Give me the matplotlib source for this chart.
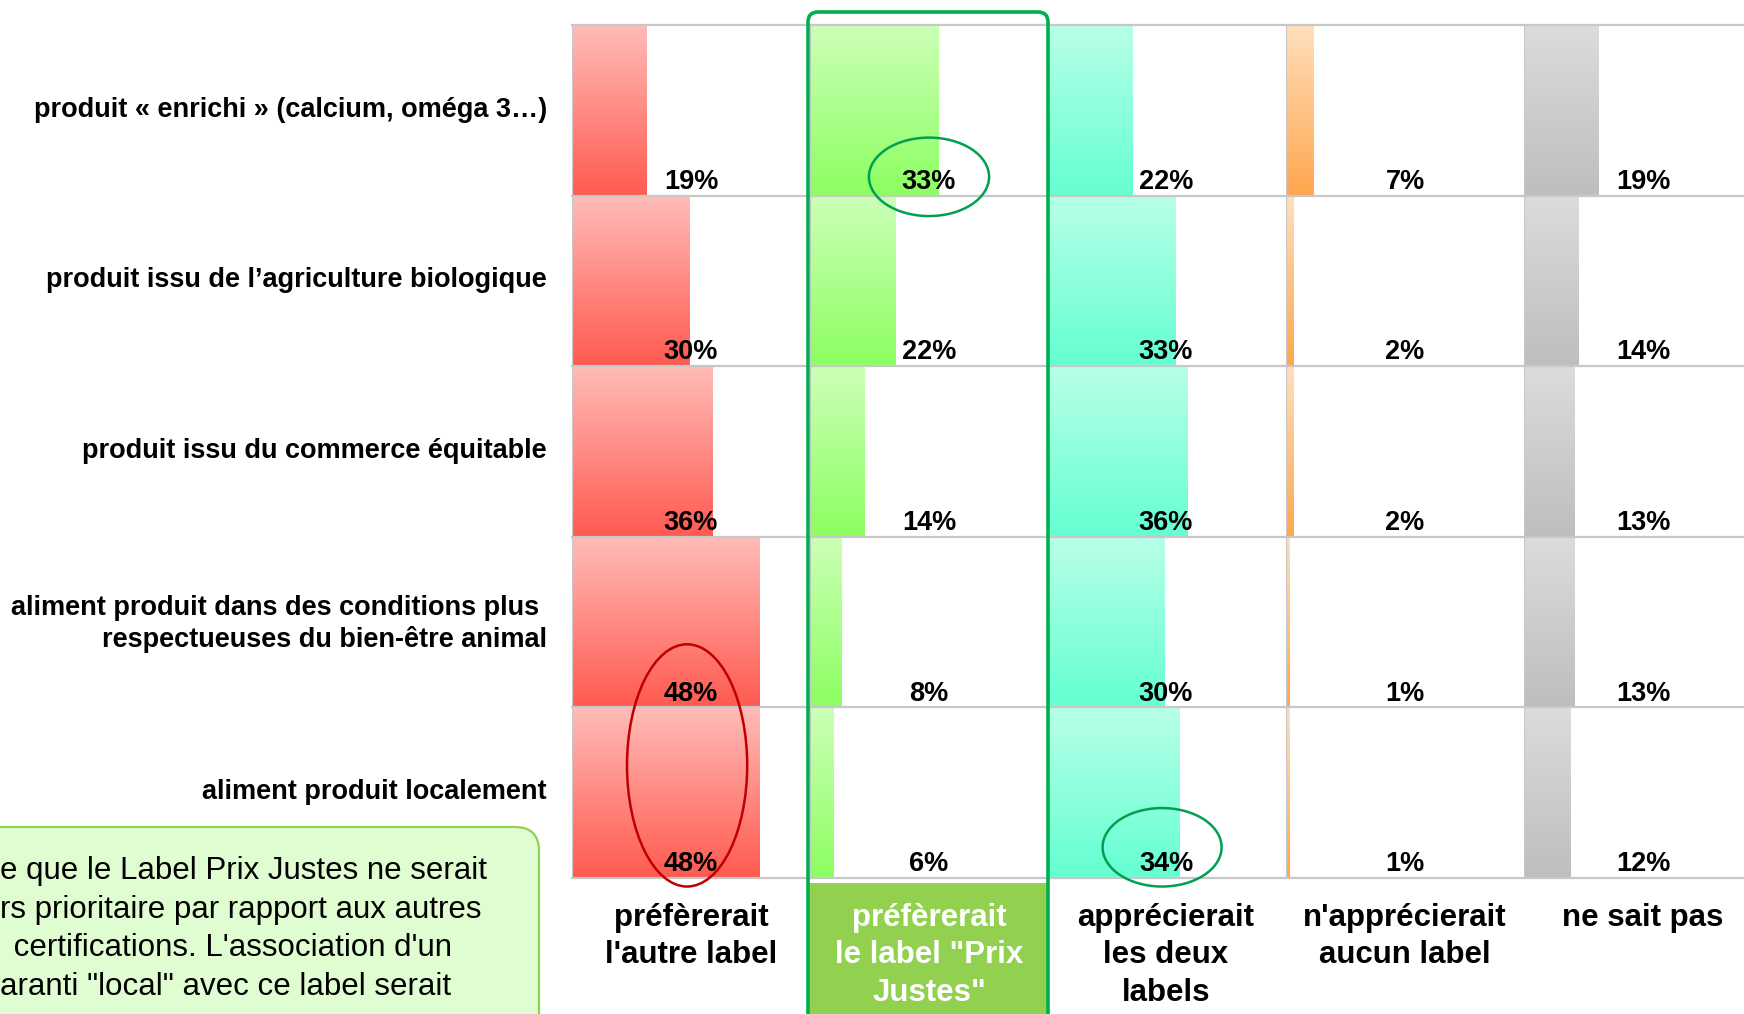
import numpy as np
import matplotlib
matplotlib.use('Agg')
import matplotlib.pyplot as plt
from matplotlib.patches import Ellipse, FancyBboxPatch, Rectangle
from matplotlib.colors import LinearSegmentedColormap
from matplotlib.transforms import IdentityTransform, ScaledTranslation

plt.rcParams['font.family'] = ['Liberation Sans', 'DejaVu Sans']

# ---------------- data ----------------
row_labels = [
    "produit « enrichi » (calcium, oméga 3…)",
    "produit issu de l’agriculture biologique",
    "produit issu du commerce équitable",
    "aliment produit dans des conditions plus \nrespectueuses du bien-être animal",
    "aliment produit localement",
]
col_labels = [
    "préfèrerait\nl'autre label",
    "préfèrerait\nle label \"Prix\nJustes\"",
    "apprécierait\nles deux\nlabels",
    "n'apprécierait\naucun label",
    "ne sait pas",
]
autre_label = [19, 30, 36, 48, 48]
prix_justes = [33, 22, 14, 8, 6]
deux_labels = [22, 33, 36, 30, 34]
aucun_label = [7, 2, 2, 1, 1]
ne_sait_pas = [19, 14, 13, 13, 12]
series = [autre_label, prix_justes, deux_labels, aucun_label, ne_sait_pas]

note_lines = [
    "e que le Label Prix Justes ne serait",
    "rs prioritaire par rapport aux autres",
    " certifications. L'association d'un",
    "aranti \"local\" avec ce label serait",
]

# gradient colours (top -> bottom)
grads = [
    ("#FFBCB8", "#FF5A50"),
    ("#CCFFB8", "#8CFF60"),
    ("#B8FFE8", "#64FFD2"),
    ("#FFDFBC", "#FFA64E"),
    ("#DCDCDC", "#BEBEBE"),
]

W, H = 1744, 1014
DPI = 100
fig = plt.figure(figsize=(W / DPI, H / DPI), dpi=DPI)
fig.patch.set_facecolor('white')

def fx(px):
    return px / W

def fy(py):
    return 1 - py / H

grid_top, grid_bot = 25, 878
col_left = [572, 810, 1047, 1286, 1524]
col_w = 238
XMAX = 61.0
grid_col = "#C8C8C8"

axes = []
for i, vals in enumerate(series):
    ax = fig.add_axes([fx(col_left[i]), fy(grid_bot), col_w / W, (grid_bot - grid_top) / H])
    axes.append(ax)
    ypos = np.arange(len(vals))
    bars = ax.barh(ypos, vals, height=1.0, left=0, color='none', edgecolor='none')
    cmap = LinearSegmentedColormap.from_list(f"g{i}", list(grads[i]))
    grad = np.linspace(0, 1, 256).reshape(-1, 1)
    for b in bars:
        x0, w = b.get_x(), b.get_width()
        y0, h = b.get_y(), b.get_height()
        im = ax.imshow(grad, cmap=cmap, aspect='auto', origin='upper',
                       extent=(x0, x0 + w, y0 + h, y0), zorder=1, interpolation='bilinear')
        im.set_clip_path(b)
    for k, v in enumerate(vals):
        ax.text(XMAX / 2, k + 0.5 - 0.04, f"{v}%", ha='center', va='baseline',
                fontsize=19.5, fontweight='bold', color='black', zorder=4)
    for yl in np.arange(-0.5, len(vals) + 0.5, 1.0):
        ax.axhline(yl, color=grid_col, lw=1.6, zorder=2, clip_on=False)
    ax.axvline(0, color=grid_col, lw=1.6, zorder=2)
    ax.set_xlim(0, XMAX)
    ax.set_ylim(len(vals) - 0.5, -0.5)
    for s in ax.spines.values():
        s.set_visible(False)
    ax.set_xticks([])
    if i == 0:
        ax.set_yticks(ypos)
        ax.set_yticklabels(row_labels, fontsize=19.5, fontweight='bold')
        ax.tick_params(axis='y', length=0, pad=18)
        shift = ScaledTranslation(0, 3.5 / DPI, fig.dpi_scale_trans)
        for lab in ax.get_yticklabels():
            lab.set_transform(lab.get_transform() + shift)
            lab.set_linespacing(1.25)
    else:
        ax.set_yticks([])

# column headers
for i, lab in enumerate(col_labels):
    fig.text(fx(col_left[i] + col_w / 2), fy(903), lab, ha='center', va='top',
             fontsize=22.5, fontweight='bold', linespacing=1.32,
             color='white' if i == 1 else 'black', zorder=7)

# green header fill for the "Prix Justes" column
fig.add_artist(Rectangle((808, 0), 240, H - 883, transform=IdentityTransform(),
                         facecolor="#92D050", edgecolor='none', zorder=5))
# green rounded outline
fig.add_artist(FancyBboxPatch((808, -40), 240, H - 12 + 40,
                              boxstyle="round,pad=0,rounding_size=10",
                              transform=IdentityTransform(), facecolor='none',
                              edgecolor="#00B050", lw=2.6, zorder=6))

# highlight ellipses
axes[1].add_patch(Ellipse((30.5, 0.39), 30.8, 0.46, facecolor='none',
                          edgecolor="#00A050", lw=1.8, zorder=5, clip_on=False))
axes[0].add_patch(Ellipse((29.5, 3.84), 30.8, 1.42, facecolor='none',
                          edgecolor="#C00000", lw=1.8, zorder=5, clip_on=False))
axes[2].add_patch(Ellipse((29.5, 4.32), 30.5, 0.46, facecolor='none',
                          edgecolor="#00A050", lw=1.8, zorder=5, clip_on=False))

# comment box (bottom left, partly cut off)
fig.add_artist(FancyBboxPatch((-60, -60), 539 + 60, (H - 827) + 60,
                              boxstyle="round,pad=0,rounding_size=24",
                              transform=IdentityTransform(), facecolor="#E0FDD2",
                              edgecolor="#92D050", lw=1.6, zorder=5))
note_y = [871, 910, 948, 987]
note_x = [0, 0, 5, 0]
for t, yy, xx in zip(note_lines, note_y, note_x):
    fig.text(fx(xx), fy(yy), t, ha='left', va='center', fontsize=22.5,
             color='black', zorder=7)

fig.savefig("out.png", dpi=DPI, facecolor='white')
